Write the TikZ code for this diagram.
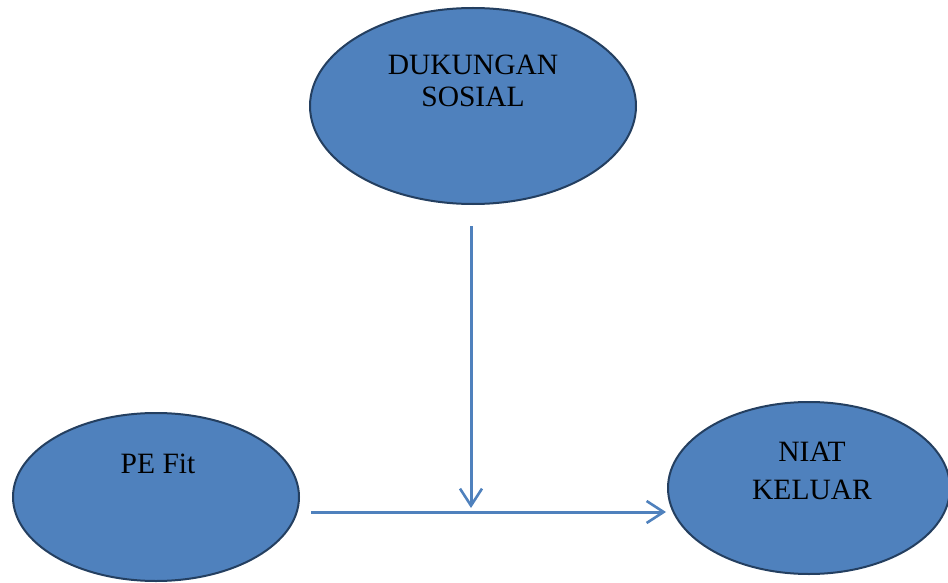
\documentclass[tikz,border=0pt]{standalone}
\usepackage{fontspec}
\setmainfont{Liberation Serif}
\usetikzlibrary{shapes.geometric,arrows.meta}
\definecolor{fillblue}{HTML}{4F81BD}
\definecolor{edgeblue}{HTML}{243F60}
\tikzset{
  oval/.style={ellipse, draw=edgeblue, fill=fillblue, line width=2pt, inner sep=0pt},
  lbl/.style={align=center, anchor=base, inner sep=0pt, text=black},
  arr/.style={draw=fillblue, line width=3pt, -{Straight Barb[length=17pt, width=22pt, line width=2.6pt]}}
}
\begin{document}
\begin{tikzpicture}[x=1pt,y=-1pt]
\useasboundingbox (0,0) rectangle (948,583);
\node[oval, minimum width=326pt, minimum height=196pt] (ds) at (473,106) {};
\node[oval, minimum width=286pt, minimum height=168pt] (pe) at (156,497) {};
\node[oval, minimum width=282pt, minimum height=172pt] (nk) at (809,488) {};
\node[lbl, font=\fontsize{29.5}{32.7}\selectfont] (dst) at (473,107) {DUKUNGAN\\SOSIAL};
\node[lbl, font=\fontsize{29.5}{37.6}\selectfont] (pet) at (158,473) {PE Fit};
\node[lbl, font=\fontsize{29.5}{37.6}\selectfont] (nkt) at (812,499) {NIAT\\KELUAR};
\coordinate (vstart) at (471,226);
\coordinate (mid) at (471,508);
\coordinate (hstart) at (311,512);
\coordinate (hend) at (666,512);
\draw[arr] (vstart) -- (mid);
\draw[arr] (hstart) -- (hend);
\end{tikzpicture}
\end{document}
